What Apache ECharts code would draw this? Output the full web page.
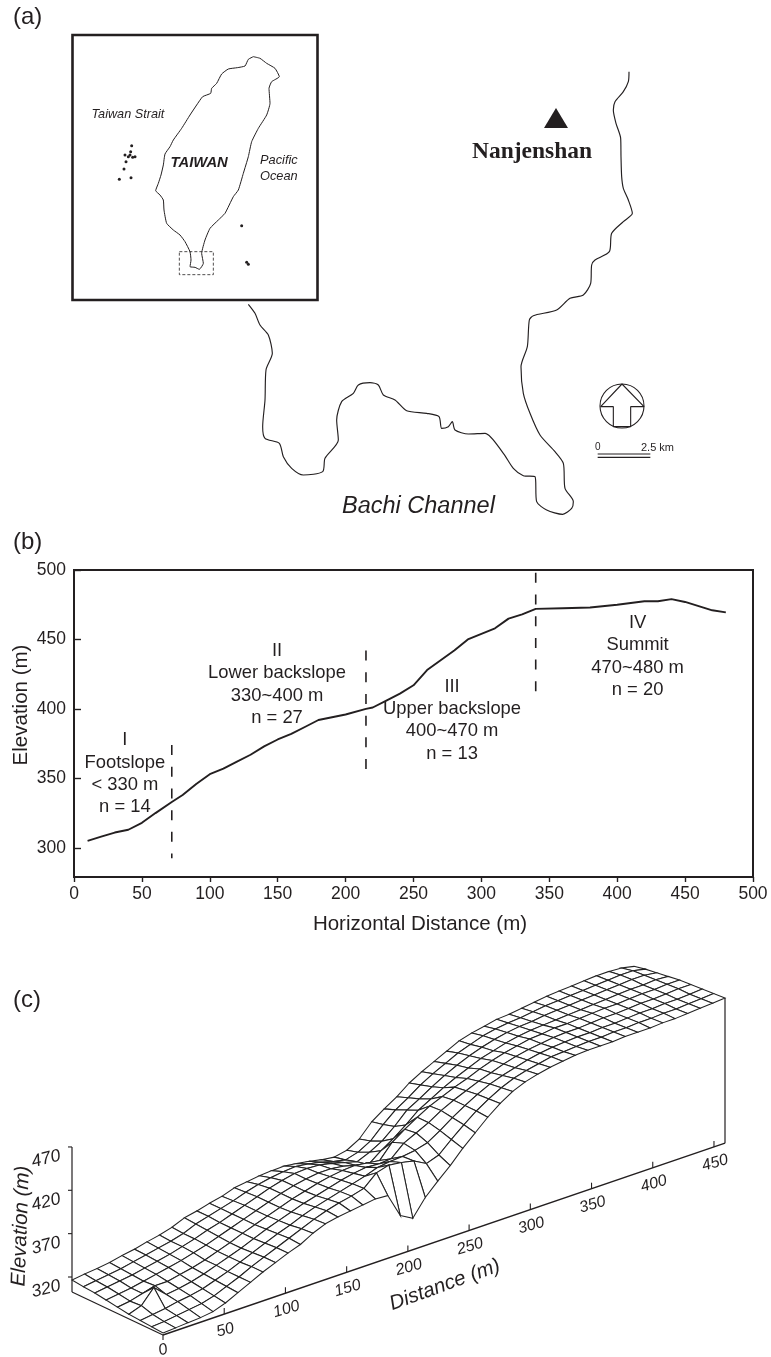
<!DOCTYPE html>
<html><head><meta charset="utf-8">
<style>html,body{margin:0;padding:0;background:#fff}#c{width:771px;height:1357px}</style>
<script src="https://cdn.jsdelivr.net/npm/echarts@6/dist/echarts.min.js"></script>
</head><body><div id="c"></div>
<script>
// ---------- panel (b) data ----------
const xTicks = [0,50,100,150,200,250,300,350,400,450,500];
const yTicks = [300,350,400,450,500];
const profileDistance = [10,20,30,40,50,60,72,80,90,100,110,120,130,140,150,160,170,180,190,200,215,220,230,240,250,260,270,280,290,300,310,320,330,340,360,380,400,420,430,440,450,460,470,480];
const profileElevation = [305,308,311,313,318,325,333,338,346,353,357,362,367,373,378,382,387,392,394,396,400,401,406,411,417,428,435,442,450,454,458,465,468,472,472.5,473,475,477.5,477.5,479,477,474,471,469.5];
const boundaries = [[72,374,292.5],[215,442,356],[340,498,411]];
const zoneNotes = [
  ["I\nFootslope\n< 330 m\nn = 14",37.5,353.4],
  ["II\nLower backslope\n330~400 m\nn = 27",149.5,417.5],
  ["III\nUpper backslope\n400~470 m\nn = 13",278.4,392],
  ["IV\nSummit\n470~480 m\nn = 20",415,437.7]
];
// ---------- panel (c) data ----------
const distanceTicks = [0,50,100,150,200,250,300,350,400,450];
const elevationTicks = [320,370,420,470];
// elevation at each distance step, from the front edge of the block to the back edge
const surfaceColumns = [
[305,306,307,308,310,312,314,315,316.5],
[306,307,309,313,312,314,316,317,318.5],
[307,309,311,329,316,316,318,319,320],
[308,311,314,316,320,319,320,321,322],
[310,313,316,318,320,322,323,324,325],
[315,317,319,321,323,325,326,327,327.5],
[322,323,324,325,326,328,329,330,331],
[329,329,329,330,330,332,333,333,334],
[336,336,335,335,335,336,337,337,338],
[342,342,341,340,340,341,342,343,344],
[348,348,347,346,346,346,346,347,347],
[353,354,353,352,351,351,351,351,351],
[361,360,358,357,356,356,356,355,354],
[367,366,364,362,361,361,361,360,359],
[370,371,369,367,366,366,366,364,361],
[372,375,373,371,370,370,370,367,363],
[374,378,377,375,374,373,373,369,364],
[376,382,381,379,377,375,374,370,364.5],
[375,395,385,382,379,375,373,368,362.5],
[347,399,390,384,380,373,370,365,360],
[339,397,392,383,378,369,366,361,357],
[358,394,393,384,376,365,362,358,355],
[372,386,395,397,392,376,368,362,358],
[385,391,399,404,402,385,376,370,366],
[400,404,408,411,411,396,388,384,381],
[413,416,418,420,419,408,402,396,391],
[426,427,427,427,425,416,410,405,400],
[437,436,435,433,431,424,419,415,411],
[446,444,442,439,436,431,427,423,419],
[452,450,447,444,442,437,434,430,426],
[456,454,451,449,447,443,440,437,433],
[459,457,455,453,451,447,445,442,440],
[461,460,458,456,454,451,449,447,444],
[463,461,460,458,457,454,452,450,447],
[464,462,461,460,458,456,454,452,450],
[464,463,462,461,460,457,455,453,451],
[464,463,462,461,460,458,457,455,453],
[465,464,463,462,461,459,458,457,455],
[465,464,463,463,462,460,459,458,457],
[465,465,464,463,463,461,460,459,458],
[466,465,465,464,463,462,461,460,459],
[466,466,465,465,464,463,462,461,460],
[467,466,466,465,465,464,463,462,461],
[468,467,466,466,465,464,464,463,461],
[469,468,467,467,466,465,464,463,460],
[470,469,468,467,466,464,462,460,457]
];
// ---------- panel (a) data, traced at 3x ----------
const taiwanOutline = [[760,170],[745,178],[735,198],[712,203],[685,207],[665,222],[650,250],[635,265],[632,280],[608,290],[590,315],[570,345],[545,385],[520,420],[510,440],[495,462],[490,495],[483,525],[475,550],[467,572],[480,585],[490,600],[492,630],[500,670],[520,690],[540,705],[555,725],[570,755],[573,780],[570,800],[585,802],[598,808],[610,790],[605,760],[615,720],[630,685],[655,660],[675,640],[700,590],[715,570],[730,520],[745,470],[755,425],[775,385],[800,345],[810,310],[807,265],[815,245],[838,230],[825,205],[800,190],[780,175],[760,170]];
const islands = [[395,437],[392,455],[390,465],[385,470],[375,465],[405,470],[398,472],[378,485],[372,507],[358,538],[393,533],[725,677],[740,787],[745,793]];
const eastCoast = [[1167,35],[1165,65],[1150,95],[1125,125],[1120,150],[1128,190],[1142,235],[1143,290],[1145,350],[1150,385],[1165,420],[1177,460],[1150,485],[1115,520],[1108,575],[1065,600],[1055,615],[1052,670],[1030,705],[990,715],[950,750],[880,767],[868,780],[862,860],[843,920],[850,1000],[870,1060],[900,1125],[945,1175],[970,1210],[975,1285],[1000,1325],[995,1345],[968,1363],[920,1350],[890,1325],[885,1250],[850,1247],[820,1225],[790,1180],[735,1120],[685,1122],[645,1110],[637,1085],[625,1100],[605,1105],[597,1070],[560,1060],[500,1052],[465,1020],[430,1005],[415,975],[390,968],[355,975],[340,1000],[305,1025],[290,1080],[295,1140],[255,1195],[248,1235],[190,1245],[155,1225],[130,1190],[118,1150],[75,1135],[68,1100],[75,1020],[78,930],[97,880],[85,825],[60,795],[45,760],[25,733]];
const northArrow = [[1146,972],[1082,1040],[1120,1040],[1120,1100],[1172,1100],[1172,1040],[1212,1040],[1146,972]];

// ---------- helpers ----------
const INK = '#231f20';
const SANS = '"Liberation Sans", Arial, sans-serif';
const insetPt = p => [p[0]/3, p[1]/3];
const mainPt = p => [240+p[0]/3, 60+p[1]/3];
// block-diagram projection of panel (c) onto the page
const BASE_Z = 302.7, DMAX = 459;
const project = (d,w,z) => [163+1.2244*d-91*w, 1335-0.418*d-43*w-0.867*(z-BASE_Z)];
const line = (pts,width,extra) => Object.assign({type:'line',xAxisIndex:0,yAxisIndex:0,data:pts,symbol:'none',silent:true,clip:false,
  lineStyle:{color:INK,width:width},z:3},extra||{});
const notes = (items,fontSize,rotate,extra) => ({type:'scatter',xAxisIndex:0,yAxisIndex:0,symbolSize:1,silent:true,clip:false,
  itemStyle:{color:'transparent',opacity:1},z:6,
  data:items.map(it=>({value:it.pos,label:{formatter:it.text}})),
  label:Object.assign({show:true,position:'inside',color:INK,fontFamily:SANS,fontSize:fontSize,rotate:rotate,fontStyle:'italic'},extra||{})});
const dot = (pts,symbol,size,style) => ({type:'scatter',xAxisIndex:0,yAxisIndex:0,data:pts,symbol:symbol,symbolSize:size,
  itemStyle:Object.assign({color:INK,opacity:1},style||{}),silent:true,z:4});

// ---------- mesh ----------
const nCols = surfaceColumns.length, nRows = surfaceColumns[0].length;
const quads = [];
for (let r=nRows-2;r>=0;r--) for (let c=nCols-2;c>=0;c--) {
  const P=(cc,rr)=>project(cc*DMAX/(nCols-1),rr/(nRows-1),surfaceColumns[cc][rr]);
  quads.push([P(c,r),P(c+1,r),P(c+1,r+1),P(c,r+1)]);
}
const meshSeries = {type:'custom',xAxisIndex:0,yAxisIndex:0,silent:true,clip:false,z:2,progressive:0,
  data:quads.map((q,i)=>[q[0][0],q[0][1],i]),
  encode:{x:0,y:1},
  renderItem:(params,api)=>({type:'polygon',shape:{points:quads[api.value(2)].map(p=>api.coord(p))},
    style:{fill:'#fff',stroke:'#222',lineWidth:1.05}})};

const topRightZ = surfaceColumns[nCols-1][0];
const series = [
  // panel (a)
  line(taiwanOutline.map(insetPt),1,{smooth:0.15}),
  line(eastCoast.map(mainPt),1.15,{smooth:0.25}),
  dot(islands.map(insetPt),'circle',3),
  line([[538,755],[640,755],[640,824],[538,824],[538,755]].map(insetPt),0.8,{lineStyle:{color:INK,width:0.8,type:[3,2]}}),
  dot([[556,118]],'triangle',[24,20]),
  dot([[622,406]],'circle',44,{color:'transparent',borderColor:INK,borderWidth:1.1}),
  line(northArrow.map(mainPt),1.1),
  line([[1073,1182],[1231,1182]].map(mainPt),1.1),
  line([[1073,1192],[1231,1192]].map(mainPt),1.1),
  // panel (b)
  {type:'line',xAxisIndex:1,yAxisIndex:1,data:profileDistance.map((d,i)=>[d,profileElevation[i]]),symbol:'none',silent:true,lineStyle:{color:INK,width:1.9},z:4},
].concat(boundaries.map(b=>({type:'line',xAxisIndex:1,yAxisIndex:1,data:[[b[0],b[1]],[b[0],b[2]]],symbol:'none',silent:true,
    lineStyle:{color:INK,width:1.6,type:[10,11.7]},z:4})))
.concat([{type:'scatter',xAxisIndex:1,yAxisIndex:1,symbolSize:1,silent:true,itemStyle:{color:'transparent',opacity:1},z:6,
    data:zoneNotes.map(n=>({value:[n[1],n[2]],label:{formatter:n[0]}})),
    label:{show:true,position:'inside',color:INK,fontFamily:SANS,fontSize:18.4,lineHeight:22.4,align:'center',verticalAlign:'middle'}}])
// panel (c)
.concat([
  meshSeries,
  line([project(0,1,BASE_Z),project(0,1,470)],1.2),
  line([project(0,1,BASE_Z),project(0,0,BASE_Z)],1.2),
  line([project(0,0,BASE_Z),project(DMAX,0,BASE_Z)],1.4),
  line([project(DMAX,0,BASE_Z),project(DMAX,0,topRightZ)],1.2),
]).concat(elevationTicks.map(z=>{const p=project(0,1,z);return line([p,[p[0]-4,p[1]]],1.1);}))
.concat(distanceTicks.map(d=>{const p=project(d,0,BASE_Z);return line([p,[p[0],p[1]+(d===0?5:-6)]],1.1);}))
.concat([
  notes(elevationTicks.map(z=>{const p=project(0,1,z);return {text:String(z),pos:[p[0]-26,p[1]+12]};}),17.5,14),
  notes(distanceTicks.map(d=>{const p=project(d,0,BASE_Z);return {text:String(d),pos:[p[0]+(d?1:0),p[1]+(d?16:15)]};}),16,16),
  notes([{text:'Distance (m)',pos:[445,1285]}],20.5,20),
  notes([{text:'Elevation (m)',pos:[21,1226]}],20.5,88),
]);

const text = (s,x,y,fs,extra) => ({type:'text',x:x,y:y,silent:true,z:10,
  style:Object.assign({text:s,fill:INK,font:fs+'px '+SANS,textVerticalAlign:'middle',verticalAlign:'middle'},extra||{})});
const chart = echarts.init(document.getElementById('c'),null,{renderer:'canvas'});
chart.setOption({
  animation:false,backgroundColor:'#fff',tooltip:{show:false},legend:{show:false},
  grid:[
    {left:0,top:0,width:771,height:1357,show:false,outerBoundsMode:'none'},
    {left:74,top:570,width:679,height:307,show:true,borderColor:INK,borderWidth:2,backgroundColor:'transparent',z:1,outerBoundsMode:'none'}
  ],
  xAxis:[
    {gridIndex:0,type:'value',min:0,max:771,show:false},
    {gridIndex:1,type:'value',min:0,max:500,interval:50,
     name:'Horizontal Distance (m)',nameLocation:'middle',nameGap:37,
     nameTextStyle:{fontFamily:SANS,fontSize:20.5,color:INK,padding:[0,0,0,13]},
     splitLine:{show:false},axisLine:{lineStyle:{color:INK,width:2}},
     axisTick:{length:5,lineStyle:{color:INK,width:1.4}},
     axisLabel:{fontFamily:SANS,fontSize:17.5,color:INK,margin:8,
       customValues:xTicks,formatter:v=>String(v),showMinLabel:true,showMaxLabel:true}}
  ],
  yAxis:[
    {gridIndex:0,type:'value',min:0,max:1357,inverse:true,show:false},
    {gridIndex:1,type:'value',min:279,max:500,
     name:'Elevation (m)',nameLocation:'middle',nameRotate:90,nameGap:42,nameMoveOverlap:false,
     nameTextStyle:{fontFamily:SANS,fontSize:20.5,color:INK,padding:[0,0,0,37]},
     splitLine:{show:false},axisLine:{lineStyle:{color:INK,width:2}},
     axisTick:{inside:true,length:7,customValues:yTicks,lineStyle:{color:INK,width:1.4}},
     axisLabel:{fontFamily:SANS,fontSize:17.5,color:INK,margin:8,customValues:yTicks,formatter:v=>String(v)}}
  ],
  graphic:[
    {type:'rect',shape:{x:72.5,y:35,width:245,height:265},silent:true,z:1,style:{fill:'none',stroke:INK,lineWidth:2.6}},
    text('(a)',13,17,24),
    text('(b)',13,542,24),
    text('(c)',13,1000,24),
    text('Taiwan Strait',91.5,114,12.7,{font:'italic 12.7px '+SANS}),
    text('TAIWAN',170.5,163,14.8,{font:'italic bold 14.8px '+SANS}),
    text('Pacific',260,160.5,12.8,{font:'italic 12.8px '+SANS}),
    text('Ocean',260,176,12.8,{font:'italic 12.8px '+SANS}),
    text('Nanjenshan',472,152,23.5,{font:'bold 23.5px "Liberation Serif", serif'}),
    text('Bachi Channel',342,506,23.5,{font:'italic 23.5px '+SANS}),
    text('0',595,447,10),
    text('2.5 km',641,447.5,11)
  ],
  series:series
});
</script></body></html>
